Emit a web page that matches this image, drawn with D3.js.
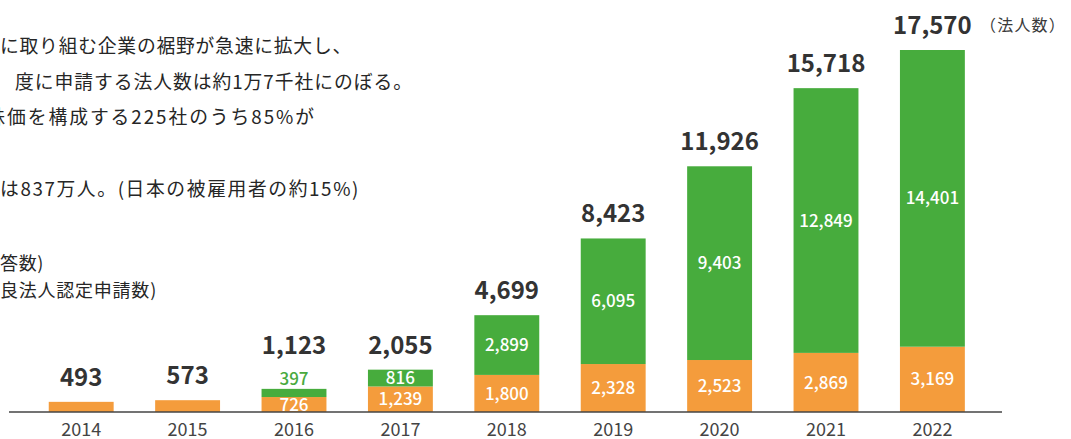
<!DOCTYPE html>
<html><head><meta charset="utf-8">
<script src="https://cdn.jsdelivr.net/npm/d3@7"></script>
<style>html,body{margin:0;padding:0;background:#fff;overflow:hidden}</style>
</head><body><svg id="c" width="1071" height="439"></svg>
<script>
const years = ["2014","2015","2016","2017","2018","2019","2020","2021","2022"];
const surveyCounts = [493, 573, 726, 1239, 1800, 2328, 2523, 2869, 3169];   // orange
const applyCounts  = [0, 0, 397, 816, 2899, 6095, 9403, 12849, 14401];     // green
const unitLabel = "（法人数）";
const noteLines = [
  {text:"に取り組む企業の裾野が急速に拡大し、", pre:"", x:0, len:352, cy:46},
  {text:"度に申請する法人数は約1万7千社にのぼる。", pre:"", x:15, len:398, cy:82},
  {text:"価を構成する225社のうち85%が", pre:"株", x:7, len:309, cy:117},
  {text:"は837万人。(日本の被雇用者の約15%)", pre:"", x:0, len:360, cy:189}
];
const legendLines = [
  {text:"答数)", pre:"", x:0, len:44, cy:263},
  {text:"良法人認定申請数)", pre:"", x:0, len:157, cy:290}
];

const FONT = "'Noto Sans CJK JP','Noto Sans',sans-serif";
const svg = d3.select("#c");
svg.append("rect").attr("width",1071).attr("height",439).attr("fill","#fff");

const totals = years.map((yr,i)=>surveyCounts[i]+applyCounts[i]);
const x = d3.scaleBand().domain(years).range([28, 985.6]).paddingInner(0.39).paddingOuter(0.195);
const y = d3.scaleLinear().domain([0, d3.max(totals)]).range([412, 50]);
const stackData = years.map((yr,i)=>({year:yr, orange:surveyCounts[i], green:applyCounts[i]}));
const series = d3.stack().keys(["orange","green"])(stackData);
const colors = {orange:"#F49C3C", green:"#47AC3D"};

svg.append("g").selectAll("g").data(series).join("g").attr("fill", d=>colors[d.key])
  .selectAll("rect").data(d=>d.filter(p=>p[1]>p[0])).join("rect")
  .attr("x", d=>x(d.data.year)).attr("width", x.bandwidth())
  .attr("y", d=>y(d[1])).attr("height", d=>y(d[0])-y(d[1]));

// baseline
svg.append("line").attr("x1",9).attr("x2",1002).attr("y1",y(0)).attr("y2",y(0))
  .attr("stroke","#444").attr("stroke-width",1.4);

// segment labels
const outside = {};
series.forEach(s=>{
  s.forEach(p=>{
    const yr = p.data.year;
    if (p.data.green <= 0) return;
    const val = p[1]-p[0];
    const h = y(p[0])-y(p[1]);
    const t = svg.append("text").attr("font-family",FONT).attr("font-size",17).attr("font-weight",500)
      .attr("text-anchor","middle").attr("x", x(yr)+x.bandwidth()/2).text(d3.format(",")(val));
    if (h >= 14) {
      t.attr("y",(y(p[0])+y(p[1]))/2).attr("dy","0.36em").attr("fill","#fff");
    } else {
      outside[yr] = true;
      t.attr("y", y(p[1])-4).attr("fill","#4aaa3e");
    }
  });
});

// totals
years.forEach((yr,i)=>{
  const off = outside[yr] ? 35 : 16;
  svg.append("text").attr("font-family",FONT).attr("font-size",24).attr("font-weight",700)
    .attr("fill","#333").attr("text-anchor","middle")
    .attr("x", x(yr)+x.bandwidth()/2).attr("y", y(totals[i])-off)
    .text(d3.format(",")(totals[i]));
});

// unit
svg.append("text").attr("font-family",FONT).attr("font-size",16).attr("fill","#3a3a3a")
  .attr("x",980).attr("y",31).attr("letter-spacing",1.2).text(unitLabel);

// year axis
const axis = svg.append("g").attr("transform",`translate(0,${y(0)})`)
  .call(d3.axisBottom(x).tickSize(0).tickPadding(0));
axis.select(".domain").remove();
axis.selectAll("text").attr("y",24).attr("dy",0).attr("font-size",18)
  .attr("font-family",FONT).attr("fill","#444");

// note + legend text (letter-spacing fitted to the measured line width)
function drawLine(l, fs){
  const t = svg.append("text").attr("font-family",FONT).attr("font-size",fs)
    .attr("fill","#262626").attr("x",l.x).attr("y",l.cy+6.5).text(l.text);
  const nat = t.node().getComputedTextLength();
  const n = [...l.text].length;
  const ls = Math.max(0, (l.len - nat)/n);
  t.attr("letter-spacing", ls);
  if (l.pre) {
    svg.append("text").attr("font-family",FONT).attr("font-size",fs).attr("fill","#262626")
      .attr("letter-spacing", ls)
      .attr("text-anchor","end").attr("x",l.x).attr("y",l.cy+6.5).text(l.pre);
  }
}
noteLines.forEach(l=>drawLine(l,18.8));
legendLines.forEach(l=>drawLine(l,18));
</script></body></html>
